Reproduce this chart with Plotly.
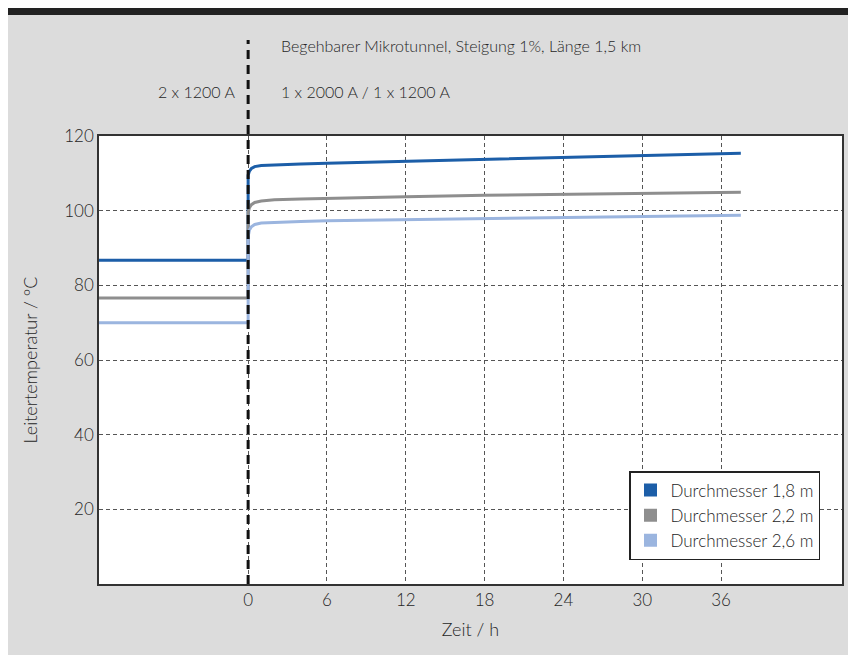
import plotly.graph_objects as go

# ---- data ----
time_h = [-11.4, 0, 0, 0.1, 0.25, 0.5, 1, 2, 4, 6, 12, 18, 24, 30, 36, 37.5]
d18 = [86.7, 86.7, 109.5, 110.6, 111.3, 111.8, 112.1, 112.3, 112.5, 112.7, 113.2, 113.6, 114.1, 114.7, 115.2, 115.4]
d22 = [76.6, 76.6, 99.5, 100.8, 101.6, 102.2, 102.6, 102.9, 103.1, 103.3, 103.7, 104.1, 104.4, 104.6, 104.8, 104.9]
d26 = [70.0, 70.0, 93.0, 94.8, 95.7, 96.3, 96.7, 96.9, 97.1, 97.3, 97.6, 97.9, 98.2, 98.5, 98.7, 98.8]
series_names = ["Durchmesser 1,8 m", "Durchmesser 2,2 m", "Durchmesser 2,6 m"]
series_colors = ["#1c5ea8", "#8e8e8e", "#9bb5df"]
x_ticks = [0, 6, 12, 18, 24, 30, 36]
y_ticks = [20, 40, 60, 80, 100, 120]

W, H = 856, 655
OFF = 8  # page offset of the figure in the window
# target plot-area edges in window pixels
P_L, P_R, P_T, P_B = 99, 842, 136, 584
ML, MT = P_L - OFF, P_T - OFF
MR, MB = W + OFF - P_R, H + OFF - P_B
PW, PH = P_R - P_L, P_B - P_T

def py(pix):  # window pixel y -> paper y
    return (P_B - pix) / PH

def px(pix):  # window pixel x -> paper x
    return (pix - P_L) / PW

FONT = "Lato"
TXT = "#262626"
FW = 300

fig = go.Figure()
for vals, name, col in zip([d18, d22, d26], series_names, series_colors):
    fig.add_trace(go.Scatter(x=time_h, y=vals, mode="lines", name=name,
                             line=dict(color=col, width=3), showlegend=False,
                             hoverinfo="skip"))
for name, col in zip(series_names, series_colors):
    fig.add_trace(go.Scatter(x=[None], y=[None], mode="markers", name=name,
                             marker=dict(symbol="square", size=13, color=col)))

fig.update_layout(
    width=W, height=H,
    margin=dict(l=ML, r=MR, t=MT, b=MB),
    paper_bgcolor="#dcdcdc", plot_bgcolor="white",
    font=dict(family=FONT, size=16, color=TXT, weight=FW),
    legend=dict(x=px(629), y=py(471), xanchor="left", yanchor="top",
                bgcolor="white", bordercolor="#222", borderwidth=1.5,
                font=dict(size=17, color=TXT, weight=FW), tracegroupgap=0,
                itemsizing="trace", itemwidth=30),
    xaxis=dict(range=[-11.35, 45.2], tickvals=x_ticks, ticks="",
               showgrid=True, gridcolor="#555", gridwidth=1, griddash="4px,3px",
               zeroline=False, showline=True, linecolor="#333", linewidth=1.5,
               mirror=True, title=dict(text="Zeit / h", standoff=14,
                                       font=dict(size=18, weight=FW)),
               tickfont=dict(size=17, weight=FW)),
    yaxis=dict(range=[0, 120], tickvals=y_ticks, ticks="",
               showgrid=True, gridcolor="#555", gridwidth=1, griddash="4px,3px",
               zeroline=False, showline=True, linecolor="#333", linewidth=1.5,
               mirror=True, title=dict(text="Leitertemperatur / °C", standoff=22,
                                       font=dict(size=18, weight=FW)),
               tickfont=dict(size=17, weight=FW)),
    shapes=[
        dict(type="line", xref="x", yref="paper", x0=0, x1=0, y0=0, y1=py(40),
             line=dict(color="#111", width=3, dash="9px,6px"), layer="above"),
        dict(type="rect", xref="paper", yref="paper", x0=px(OFF - 2), x1=px(W + OFF + 5),
             y0=py(15), y1=py(OFF - 2), fillcolor="#222", line=dict(width=0)),
    ],
    annotations=[
        dict(text="Begehbarer Mikrotunnel, Steigung 1%, Länge 1,5 km",
             xref="paper", yref="paper", x=px(279), y=py(46),
             xanchor="left", yanchor="middle", showarrow=False,
             font=dict(size=16, color=TXT, weight=FW)),
        dict(text="2 x 1200 A", xref="paper", yref="paper", x=px(237), y=py(92),
             xanchor="right", yanchor="middle", showarrow=False,
             font=dict(size=16, color=TXT, weight=FW)),
        dict(text="1 x 2000 A / 1 x 1200 A", xref="paper", yref="paper",
             x=px(279), y=py(92), xanchor="left", yanchor="middle",
             showarrow=False, font=dict(size=16, color=TXT, weight=FW)),
    ],
)

fig.write_html("out.html")
